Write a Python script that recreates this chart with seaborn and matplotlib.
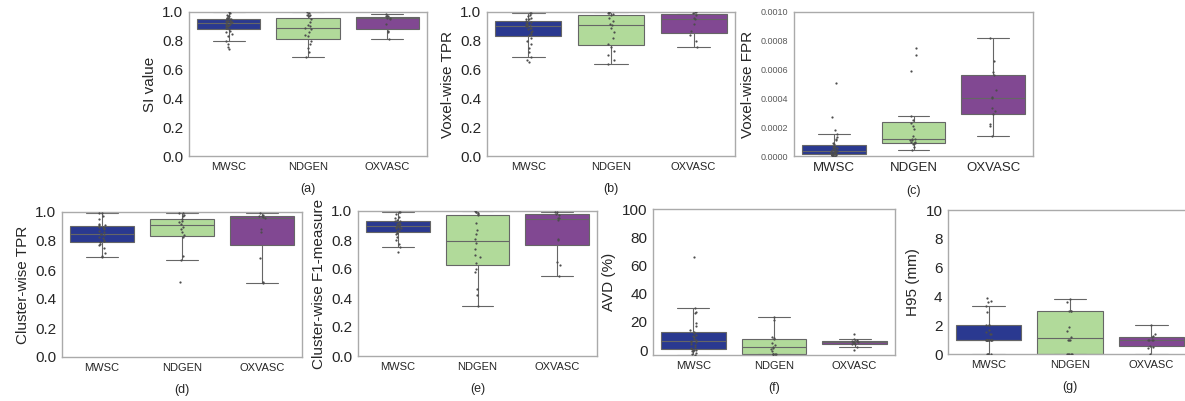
import pandas as pd
import matplotlib
matplotlib.use("Agg")
import matplotlib.pyplot as plt
import seaborn as sns

# sites and colours
sites = ["MWSC", "NDGEN", "OXVASC"]
site_colors = ["#2a3990", "#b1da9a", "#814892"]

# (a) SI value
si_mwsc = [0.74, 0.76, 0.78, 0.80, 0.83, 0.85, 0.86, 0.87, 0.88, 0.89, 0.89, 0.90, 0.90, 0.91, 0.91,
           0.92, 0.92, 0.93, 0.93, 0.93, 0.94, 0.94, 0.94, 0.95, 0.95, 0.95, 0.96, 0.96, 0.96, 0.97,
           0.97, 0.98, 0.99, 1.00]
si_ndgen = [0.69, 0.72, 0.75, 0.78, 0.80, 0.83, 0.84, 0.86, 0.88, 0.89, 0.90, 0.91, 0.93, 0.95, 0.97,
            0.98, 0.98, 0.99, 1.00]
si_oxvasc = [0.815, 0.86, 0.87, 0.92, 0.95, 0.96, 0.96, 0.97, 0.97, 0.985]

# (b) voxel-wise TPR
vtpr_mwsc = [0.65, 0.67, 0.69, 0.72, 0.75, 0.78, 0.80, 0.82, 0.84, 0.85, 0.86, 0.87, 0.88, 0.89, 0.89,
             0.90, 0.90, 0.91, 0.91, 0.92, 0.92, 0.93, 0.93, 0.94, 0.95, 0.95, 0.96, 0.97, 0.98, 0.99,
             0.995]
vtpr_ndgen = [0.64, 0.67, 0.70, 0.73, 0.76, 0.78, 0.82, 0.86, 0.89, 0.91, 0.92, 0.94, 0.96, 0.98,
              0.985, 0.99, 0.99, 1.00, 1.00]
vtpr_oxvasc = [0.756, 0.80, 0.84, 0.87, 0.92, 0.95, 0.96, 0.98, 0.99, 1.00, 1.00]

# (c) voxel-wise FPR
vfpr_mwsc = [0.0, 0.0, 0.000002, 0.000004, 0.000005, 0.000007, 0.000009, 0.00001, 0.000012, 0.000015,
             0.000018, 0.00002, 0.000022, 0.000025, 0.000027, 0.000028, 0.00003, 0.000033, 0.000036,
             0.00004, 0.000045, 0.00005, 0.000055, 0.00006, 0.000065, 0.00007, 0.00008, 0.00009,
             0.00011, 0.00012, 0.00013, 0.00015, 0.00018, 0.00027, 0.00051]
vfpr_ndgen = [0.000044, 0.00006, 0.00008, 0.000088, 0.00009, 0.000095, 0.0001, 0.000108, 0.000112,
              0.000116, 0.00012, 0.00014, 0.00019, 0.00021, 0.00023, 0.00025, 0.000277, 0.00059,
              0.0007, 0.00075]
vfpr_oxvasc = [0.000137, 0.00021, 0.00022, 0.00029, 0.00031, 0.00033, 0.0004, 0.00041, 0.00046,
               0.00056, 0.00058, 0.00066, 0.00082]

# (d) cluster-wise TPR
ctpr_mwsc = [0.69, 0.70, 0.72, 0.75, 0.77, 0.78, 0.79, 0.80, 0.81, 0.82, 0.83, 0.84, 0.85, 0.85, 0.86,
             0.87, 0.88, 0.89, 0.90, 0.90, 0.91, 0.91, 0.92, 0.95, 0.97, 0.99, 0.99]
ctpr_ndgen = [0.52, 0.67, 0.70, 0.83, 0.84, 0.86, 0.88, 0.90, 0.92, 0.93, 0.94, 0.95, 0.97, 0.98,
              0.99, 0.993]
ctpr_oxvasc = [0.51, 0.52, 0.68, 0.86, 0.88, 0.96, 0.965, 0.97, 0.975, 0.98, 0.993]

# (e) cluster-wise F1
f1_mwsc = [0.72, 0.75, 0.77, 0.80, 0.82, 0.84, 0.85, 0.86, 0.87, 0.88, 0.88, 0.89, 0.89, 0.90, 0.90,
           0.90, 0.91, 0.91, 0.92, 0.92, 0.93, 0.93, 0.94, 0.95, 0.96, 0.98, 0.99, 0.993]
f1_ndgen = [0.343, 0.42, 0.46, 0.58, 0.60, 0.64, 0.68, 0.70, 0.74, 0.78, 0.81, 0.84, 0.87, 0.92, 0.97,
            0.98, 0.985, 0.99, 0.995, 0.998]
f1_oxvasc = [0.552, 0.63, 0.65, 0.80, 0.81, 0.94, 0.95, 0.955, 0.975, 0.98, 0.99, 0.993]

# (f) AVD (%)
avd_mwsc = [-3.5, -3.0, -2.0, -1.0, -0.5, 0.0, 0.3, 0.7, 1.5, 2.5, 3.5, 4.5, 5.5, 6.0, 6.4, 7.0, 8.0,
            9.0, 10.0, 11.0, 12.0, 13.0, 14.0, 17.0, 19.0, 26.0, 27.0, 30.0, 65.7]
avd_ndgen = [-3.0, -2.9, -2.8, -2.6, -2.5, -1.0, 0.5, 1.5, 2.3, 3.5, 5.0, 8.0, 8.5, 9.0, 21.5, 23.6]
avd_oxvasc = [-0.2, 2.4, 4.3, 4.6, 5.0, 5.4, 5.7, 6.0, 6.3, 6.6, 7.0, 7.6, 11.3]

# (g) H95 (mm)
h95_mwsc = [0, 0, 0, 0, 1.0, 1.0, 1.0, 1.0, 1.0, 1.0, 1.0, 1.0, 1.0, 1.0, 1.0, 1.4, 1.4, 1.5, 1.7,
            2.0, 2.0, 2.0, 2.9, 3.3, 3.6, 3.7, 3.9]
h95_ndgen = [0, 0, 0, 0, 0, 1.0, 1.0, 1.0, 1.2, 1.6, 1.9, 3.0, 3.0, 3.0, 3.6, 3.8]
h95_oxvasc = [0, 0.4, 0.5, 0.55, 1.0, 1.0, 1.0, 1.0, 1.2, 1.25, 1.4, 2.0]

sns.set_style("white")
plt.rcParams["font.family"] = ["Liberation Sans", "DejaVu Sans"]

W, H = 1185, 401
fig = plt.figure(figsize=(W / 100, H / 100), dpi=100)


def rect(left, top, right, bottom):
    return [left / W, 1 - bottom / H, (right - left) / W, (bottom - top) / H]


# panel settings: data, y label, sub label, ylim, yticks, axes box in pixels, small y ticks
panels = [
    ((si_mwsc, si_ndgen, si_oxvasc), "SI value", "(a)", (0, 1.0),
     [0, 0.2, 0.4, 0.6, 0.8, 1.0], rect(189, 12, 427, 156), False),
    ((vtpr_mwsc, vtpr_ndgen, vtpr_oxvasc), "Voxel-wise TPR", "(b)", (0, 1.0),
     [0, 0.2, 0.4, 0.6, 0.8, 1.0], rect(487, 12, 735, 156), False),
    ((vfpr_mwsc, vfpr_ndgen, vfpr_oxvasc), "Voxel-wise FPR", "(c)", (0, 0.001),
     [0, 0.0002, 0.0004, 0.0006, 0.0008, 0.001], rect(794, 12, 1033, 156), True),
    ((ctpr_mwsc, ctpr_ndgen, ctpr_oxvasc), "Cluster-wise TPR", "(d)", (0, 1.0),
     [0, 0.2, 0.4, 0.6, 0.8, 1.0], rect(62, 212, 302, 357), False),
    ((f1_mwsc, f1_ndgen, f1_oxvasc), "Cluster-wise F1-measure", "(e)", (0, 1.0),
     [0, 0.2, 0.4, 0.6, 0.8, 1.0], rect(358, 211, 597, 356), False),
    ((avd_mwsc, avd_ndgen, avd_oxvasc), "AVD (%)", "(f)", (-3.5, 100),
     [0, 20, 40, 60, 80, 100], rect(653, 209, 895, 355), False),
    ((h95_mwsc, h95_ndgen, h95_oxvasc), "H95 (mm)", "(g)", (0, 10),
     [0, 2, 4, 6, 8, 10], rect(948, 210, 1192, 354), False),
]

for values, ylab, sub, ylim, yticks, box, small in panels:
    df = pd.DataFrame({
        "site": [s for s, v in zip(sites, values) for _ in v],
        "value": [x for v in values for x in v],
    })
    ax = fig.add_axes(box)
    sns.boxplot(data=df, x="site", y="value", hue="site", order=sites, hue_order=sites,
                palette=site_colors, saturation=1, showfliers=False, width=0.8,
                linecolor="0.4", linewidth=0.8, legend=False, ax=ax)
    sns.stripplot(data=df, x="site", y="value", order=sites, color="0.3", size=1.6,
                  jitter=0.04, ax=ax)
    ax.set_ylim(*ylim)
    ax.set_yticks(yticks)
    if small:
        ax.set_yticklabels([f"{t:.4f}" for t in yticks], fontsize=6.5, color="0.35")
        ax.tick_params(axis="x", labelsize=9.5)
    else:
        ax.set_yticklabels([f"{t:.1f}" if ylim[1] <= 1 else f"{t:g}" for t in yticks], fontsize=11)
        ax.tick_params(axis="x", labelsize=8)
    ax.tick_params(length=0, pad=4)
    ax.set_ylabel(ylab, fontsize=11)
    ax.set_xlabel(sub, fontsize=9, labelpad=8)
    for sp in ax.spines.values():
        sp.set_color("#aaaaaa")
        sp.set_linewidth(1)

fig.savefig("out.png", dpi=100)
